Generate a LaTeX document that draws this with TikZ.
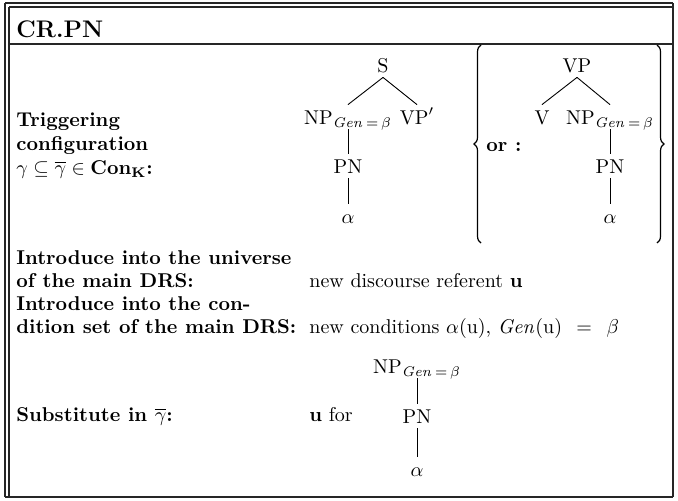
\documentclass[tikz,border=0pt]{standalone}
\usepackage{amsmath,amssymb}
\usetikzlibrary{decorations.pathreplacing}
\begin{document}
\begin{tikzpicture}[x=0.5pt, y=-0.5pt,
         frame/.style={line width=0.6pt, black!85},
         branch/.style={line width=0.45pt},
         bracket/.style={line width=0.6pt, decorate, decoration={brace, amplitude=3.5pt}},
         cat/.style={inner sep=2.5pt, text height=7pt, text depth=0pt, anchor=base},
         txt/.style={inner sep=0pt, anchor=base west},
         head/.style={txt, font=\bfseries}
      ]
   \useasboundingbox (0,0) rectangle (678,500);

   % frame of the rule box
   \draw[frame] (5,3) -- (673,3);
   \draw[frame] (9,7) -- (673,7);
   \draw[frame] (5,3) -- (5,497);
   \draw[frame] (9,7) -- (9,497);
   \draw[frame] (673,3) -- (673,497);
   \draw[frame] (5,497) -- (673,497);
   \draw[frame] (9,44) -- (673,44);

   \node[head, font=\fontsize{12}{14}\selectfont\bfseries] (title) at (16,37) {CR.PN};

   % left column
   \node[head] (trigA) at (16,126) {Triggering};
   \node[head] (trigB) at (16,150) {configuration};
   \node[head] (trigC) at (16,174) {$\gamma \subseteq \overline{\gamma} \in \mathbf{Con}_{\mathbf{K}}$:};
   \node[head] (univA) at (16,264) {Introduce into the universe};
   \node[head] (univB) at (16,287) {of the main DRS:};
   \node[head] (condA) at (16,310) {Introduce into the con-};
   \node[head] (condB) at (16,333) {dition set of the main DRS:};
   \node[head] (subst) at (16,421) {Substitute in $\overline{\gamma}$:};

   % right column
   \node[txt] (newref) at (309,287) {new discourse referent $\mathbf{u}$};
   \node[txt] (newcond) at (309,333) {new conditions $\alpha(\mathrm{u})$, $\mathit{Gen}(\mathrm{u}) \;\,=\;\, \beta$};
   \node[txt] (ufor) at (309,421) {$\mathbf{u}$ for};

   % first configuration
   \node[cat] (s) at (383,72) {S};
   \node[cat] (np) at (348,124) {$\mathrm{NP}_{\mathit{Gen}\,=\,\beta}$};
   \node[cat] (vpp) at (417,124) {$\mathrm{VP}'$};
   \node[cat] (pn) at (348,173) {PN};
   \node[cat] (alpha) at (348,223) {$\alpha$};

   % second configuration, in braces
   \draw[bracket] (481,243) -- (481,45);
   \draw[bracket] (657,45) -- (657,243);
   \node[head] (or) at (486,151) {or :};
   \node[cat] (vp) at (577,72) {VP};
   \node[cat] (v) at (542,124) {V};
   \node[cat] (npb) at (610,124) {$\mathrm{NP}_{\mathit{Gen}\,=\,\beta}$};
   \node[cat] (pnb) at (610,173) {PN};
   \node[cat] (alphab) at (610,223) {$\alpha$};

   % substituted subtree
   \node[cat] (npc) at (417,373) {$\mathrm{NP}_{\mathit{Gen}\,=\,\beta}$};
   \node[cat] (pnc) at (417,423) {PN};
   \node[cat] (alphac) at (417,476) {$\alpha$};

   \begin{scope}[branch]
      \draw (s.south) -- (np.north);
      \draw (s.south) -- (vpp.north);
      \draw (np.south) -- (pn.north);
      \draw (pn.south) -- (alpha.north);
      \draw (vp.south) -- (v.north);
      \draw (vp.south) -- (npb.north);
      \draw (npb.south) -- (pnb.north);
      \draw (pnb.south) -- (alphab.north);
      \draw (npc.south) -- (pnc.north);
      \draw (pnc.south) -- (alphac.north);
   \end{scope}
\end{tikzpicture}
\end{document}
